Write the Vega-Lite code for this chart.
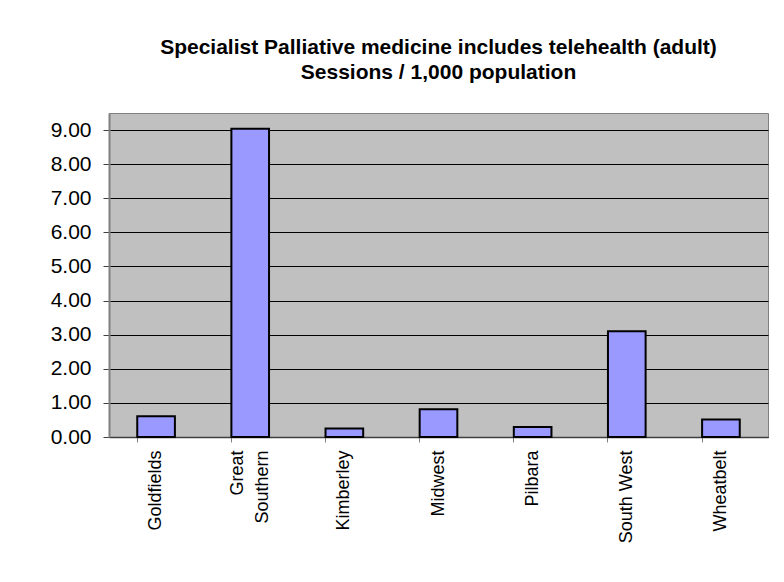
{
  "$schema": "https://vega.github.io/schema/vega-lite/v6.json",
  "autosize": "none",
  "width": 659,
  "height": 324,
  "padding": {"left": 109, "top": 113, "right": 16, "bottom": 145},
  "background": "white",
  "title": {
    "text": ["Specialist Palliative medicine includes telehealth (adult)", "Sessions / 1,000 population"],
    "font": "Liberation Sans",
    "fontSize": 21,
    "fontWeight": "bold",
    "color": "black",
    "lineHeight": 25,
    "anchor": "middle",
    "offset": 30
  },
  "data": {
    "values": [
      {"region": "Goldfields", "value": 0.61},
      {"region": "Great Southern", "value": 9.04},
      {"region": "Kimberley", "value": 0.25},
      {"region": "Midwest", "value": 0.81},
      {"region": "Pilbara", "value": 0.29},
      {"region": "South West", "value": 3.1},
      {"region": "Wheatbelt", "value": 0.51}
    ]
  },
  "mark": {"type": "bar", "fill": "#9999FF", "stroke": "black", "strokeWidth": 2},
  "encoding": {
    "x": {
      "field": "region",
      "type": "nominal",
      "sort": null,
      "scale": {"paddingInner": 0.6, "paddingOuter": 0.3},
      "axis": {
        "title": null,
        "labelAngle": -90,
        "labelAlign": "right",
        "labelBaseline": "middle",
        "labelFont": "Liberation Sans",
        "labelFontSize": 18,
        "labelColor": "black",
        "labelPadding": 8,
        "labelExpr": "datum.label == 'Great Southern' ? ['Great\u00a0\u00a0\u00a0', 'Southern'] : datum.label",
        "labelLineHeight": 25,
        "labelOffset": {"condition": {"test": "datum.label == 'Great Southern'", "value": -12}, "value": 0},
        "bandPosition": 0,
        "tickSize": 5,
        "tickColor": "#808080",
        "domainColor": "#404040",
        "domainWidth": 1.5
      }
    },
    "y": {
      "field": "value",
      "type": "quantitative",
      "scale": {"domain": [0, 9.5], "nice": false},
      "axis": {
        "title": null,
        "values": [0, 1, 2, 3, 4, 5, 6, 7, 8, 9],
        "format": ".2f",
        "labelFont": "Liberation Sans",
        "labelFontSize": 21,
        "labelColor": "black",
        "labelPadding": 12,
        "tickSize": 6,
        "tickColor": "#404040",
        "domainColor": "#808080",
        "domainWidth": 2,
        "grid": true,
        "gridColor": "black",
        "gridOpacity": 1,
        "gridWidth": 1
      }
    }
  },
  "config": {
    "view": {"fill": "#C0C0C0", "stroke": "#808080", "strokeWidth": 1}
  }
}
